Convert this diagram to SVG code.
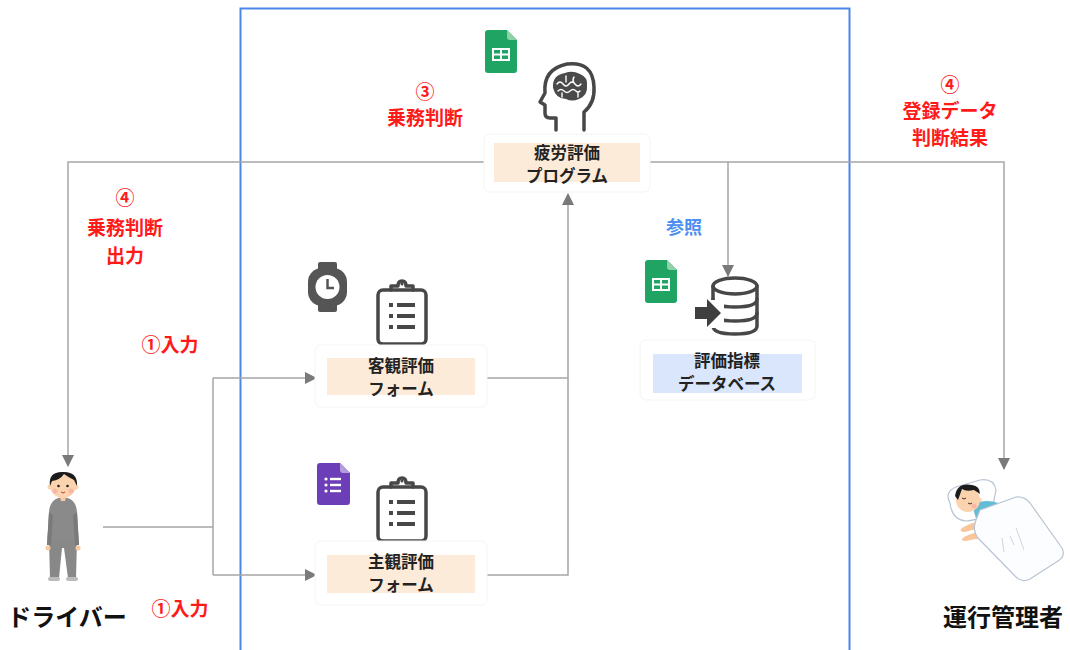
<svg xmlns="http://www.w3.org/2000/svg" width="1070" height="650" viewBox="0 0 1070 650">
  <style>
    .lbl { font-family: "Noto Sans CJK JP", "Noto Sans", sans-serif; font-weight: bold; text-anchor: middle; }
    .node { font-size: 16.5px; fill: #222; }
    .red { font-size: 19px; fill: #ff1a1a; }
    .big { font-size: 24px; fill: #111; }
    .blue { font-size: 18px; fill: #4d8ef0; }
    .card { fill: #fff; stroke: #f4f4f4; stroke-width: 1; }
    .peach { fill: #fdebd9; }
    .conn { fill: none; stroke: #a6a6a6; stroke-width: 1.5; }
    .ico { fill: none; stroke: #474747; stroke-width: 3.5; stroke-linecap: round; stroke-linejoin: round; }
  </style>
  <defs>
    <marker id="arr" markerUnits="userSpaceOnUse" markerWidth="12" markerHeight="12" viewBox="0 0 12 12" refX="11" refY="6" orient="auto">
      <path d="M0,0 L12,6 L0,12 z" fill="#7a7a7a"/>
    </marker>
    <g id="sheet">
      <path d="M3,0 H22 L32,10 V40 Q32,43 29,43 H3 Q0,43 0,40 V3 Q0,0 3,0 z" fill="#1fa463"/>
      <path d="M22,0 L32,10 H25 Q22,10 22,7 z" fill="#8ed1a8"/>
      <rect x="7" y="18" width="18" height="13" fill="#fff"/>
      <rect x="9" y="20" width="6" height="3.5" fill="#1fa463"/>
      <rect x="17" y="20" width="6" height="3.5" fill="#1fa463"/>
      <rect x="9" y="25.5" width="6" height="3.5" fill="#1fa463"/>
      <rect x="17" y="25.5" width="6" height="3.5" fill="#1fa463"/>
    </g>
    <g id="clip">
      <rect x="0" y="7" width="48" height="54" rx="5" class="ico"/>
      <path d="M13,7 V3 H20 Q20,-2 24,-2 Q28,-2 28,3 H35 V7" class="ico"/>
      <circle cx="24" cy="1" r="1.5" fill="#474747"/>
      <g fill="#474747">
        <rect x="11" y="20" width="4" height="4"/>
        <rect x="19" y="20" width="18" height="4"/>
        <rect x="11" y="31" width="4" height="4"/>
        <rect x="19" y="31" width="18" height="4"/>
        <rect x="11" y="42" width="4" height="4"/>
        <rect x="19" y="42" width="18" height="4"/>
      </g>
    </g>
  </defs>

  <rect width="1070" height="650" fill="#fff"/>

  <!-- system boundary -->
  <rect x="240.5" y="8.5" width="609" height="660" fill="none" stroke="#4a86e8" stroke-width="2"/>

  <!-- connectors -->
  <g id="connectors">
    <polyline class="conn" points="494,162 68,162 68,466" marker-end="url(#arr)"/>
    <polyline class="conn" points="640,162 1004,162 1004,469" marker-end="url(#arr)"/>
    <polyline class="conn" points="728,162 728,276" marker-end="url(#arr)"/>
    <polyline class="conn" points="475,378 568,378 568,194" marker-end="url(#arr)"/>
    <polyline class="conn" points="475,575 568,575 568,378"/>
    <polyline class="conn" points="103,527 213,527"/>
    <polyline class="conn" points="213,378 213,575"/>
    <polyline class="conn" points="213,378 316,378" marker-end="url(#arr)"/>
    <polyline class="conn" points="213,575 316,575" marker-end="url(#arr)"/>
  </g>

  <!-- fatigue evaluation program -->
  <g id="program">
    <use href="#sheet" x="485" y="30"/>
    <path d="M556,130 V118 H550 Q545,118 545,113 V105 L540,102 L545,93 Q543,69 567,64 Q593,61 594,87 Q595,103 584,112 V130" class="ico" stroke-width="3"/>
    <g>
      <path d="M553,88 Q552,75 565,73 Q572,70 580,74 Q588,77 587,86 Q588,95 579,99 Q572,102 566,99 Q556,99 553,88 z" fill="#4a4a4a"/>
      <path d="M557,84 q3,-4 6,0 q3,4 6,0 q3,-4 6,0 q3,4 6,0 M558,91 q3,-3 6,0 q3,3 6,0 q3,-3 6,0 q2,2 4,0 M566,76 v6 M574,77 q-2,3 0,6 M562,93 v4 M578,93 v4" fill="none" stroke="#fff" stroke-width="1.4" stroke-linecap="round"/>
    </g>
    <rect class="card" x="484" y="134" width="166" height="58" rx="6"/>
    <rect class="peach" x="494" y="143" width="146" height="39"/>
    <text class="lbl node" x="567" y="159">疲労評価</text>
    <text class="lbl node" x="567" y="182">プログラム</text>
  </g>

  <!-- objective evaluation form -->
  <g id="objective-form">
    <g>
      <rect x="318" y="262" width="19" height="10" rx="2" fill="#555"/>
      <rect x="318" y="302" width="19" height="10" rx="2" fill="#555"/>
      <rect x="308" y="268" width="39" height="38" rx="14" fill="#555"/>
      <circle cx="327.5" cy="287" r="12" fill="#fff"/>
      <path d="M327.5,279 V288 H334" fill="none" stroke="#555" stroke-width="2.5"/>
    </g>
    <use href="#clip" x="378" y="283"/>
    <rect class="card" x="315" y="345" width="172" height="62" rx="6"/>
    <rect class="peach" x="327" y="358" width="148" height="37"/>
    <text class="lbl node" x="401" y="372">客観評価</text>
    <text class="lbl node" x="401" y="395">フォーム</text>
  </g>

  <!-- subjective evaluation form -->
  <g id="subjective-form">
    <g>
      <path d="M320,463 H340 L350,473 V502 Q350,505 347,505 H320 Q317,505 317,502 V466 Q317,463 320,463 z" fill="#6c3fb8"/>
      <path d="M340,463 L350,473 H343 Q340,473 340,470 z" fill="#b39ddb"/>
      <g fill="#fff">
        <circle cx="326" cy="479" r="1.6"/><rect x="330" y="477.8" width="11" height="2.4"/>
        <circle cx="326" cy="485" r="1.6"/><rect x="330" y="483.8" width="11" height="2.4"/>
        <circle cx="326" cy="491" r="1.6"/><rect x="330" y="489.8" width="11" height="2.4"/>
      </g>
    </g>
    <use href="#clip" x="378" y="480"/>
    <rect class="card" x="315" y="541" width="172" height="64" rx="6"/>
    <rect class="peach" x="327" y="555" width="148" height="38"/>
    <text class="lbl node" x="401" y="568">主観評価</text>
    <text class="lbl node" x="401" y="591">フォーム</text>
  </g>

  <!-- evaluation index database -->
  <g id="database">
    <use href="#sheet" x="645" y="260"/>
    <g class="ico" stroke-width="3">
      <ellipse cx="735" cy="286" rx="22" ry="8"/>
      <path d="M713,286 V326 Q713,334 735,334 Q757,334 757,326 V286"/>
      <path d="M713,299 Q713,307 735,307 Q757,307 757,299"/>
      <path d="M713,313 Q713,321 735,321 Q757,321 757,313"/>
    </g>
    <rect x="710" y="300" width="14" height="28" fill="#fff"/>
    <path d="M695,307 H707 V299 L721,313 L707,327 V319 H695 z" fill="#3f3f3f"/>
    <rect class="card" x="640" y="340" width="175" height="60" rx="6"/>
    <rect x="653" y="354" width="149" height="39" fill="#d9e6fb"/>
    <text class="lbl node" x="727" y="367">評価指標</text>
    <text class="lbl node" x="727" y="390">データベース</text>
  </g>

  <!-- driver -->
  <g id="driver">
    <path d="M49,512 Q50,498 63,497 Q76,498 77,512 L79,545 H47 z" fill="#8a8a8a"/>
    <path d="M49,540 H77 L76,578 H68 L64,548 L62,548 L59,578 H50 z" fill="#888"/>
    <path d="M49,512 L47,545 L51,545 L53,515 M77,512 L79,545 L75,545 L73,515" fill="#7a7a7a"/>
    <rect x="48" y="577" width="12" height="4" rx="2" fill="#bbb"/>
    <rect x="66" y="577" width="12" height="4" rx="2" fill="#bbb"/>
    <circle cx="48" cy="548" r="2.5" fill="#f7c9a0"/>
    <circle cx="78" cy="548" r="2.5" fill="#f7c9a0"/>
    <path d="M59,494 L67,494 L65,501 L61,501 z" fill="#f7c9a0"/>
    <circle cx="63" cy="485" r="13" fill="#fbd3ae"/>
    <circle cx="50" cy="487" r="2.5" fill="#fbd3ae"/>
    <circle cx="76" cy="487" r="2.5" fill="#fbd3ae"/>
    <path d="M50,486 Q48,472 62,472 Q78,471 77,486 L74,480 Q68,477 64,474 Q60,480 52,481 z" fill="#1c1c1c"/>
    <circle cx="58.5" cy="486" r="1.3" fill="#222"/>
    <circle cx="67.5" cy="486" r="1.3" fill="#222"/>
    <circle cx="55" cy="491" r="2.5" fill="#f7a9a0" opacity="0.7"/>
    <circle cx="71" cy="491" r="2.5" fill="#f7a9a0" opacity="0.7"/>
    <path d="M61,492 Q63,494 65,492" fill="none" stroke="#c33" stroke-width="1"/>
    <text class="lbl big" x="67" y="626">ドライバー</text>
  </g>

  <!-- operations manager -->
  <g id="manager">
    <path d="M950,503 Q944,492 956,487 L980,480 Q994,478 996,490 L993,505 Q985,520 966,521 Q952,520 950,503 z" fill="#fff" stroke="#b9c4d3" stroke-width="1.2"/>
    <path d="M972,505 Q985,498 998,503 L1000,515 L978,525 z" fill="#62bcd6"/>
    <circle cx="968" cy="500" r="12" fill="#fbd3ae"/>
    <path d="M955,496 Q957,482 972,485 Q980,486 980,494 L974,490 Q966,492 962,489 L958,500 z" fill="#1c1c1c"/>
    <circle cx="979" cy="500" r="2.5" fill="#fbd3ae"/>
    <path d="M962,498 q2,2 4,0 M968,503 q2,2 4,0" fill="none" stroke="#333" stroke-width="1"/>
    <circle cx="974" cy="506" r="2.5" fill="#f7a9a0" opacity="0.7"/>
    <path d="M962,528 Q975,520 990,522 L992,528 Q977,528 965,532 Q958,532 962,528 z" fill="#f9c59b"/>
    <path d="M964,537 Q978,530 992,532 L991,538 Q977,538 966,541 Q959,541 964,537 z" fill="#f9c59b"/>
    <path d="M980,510 L1016,497 Q1024,496 1030,503 L1062,548 Q1066,556 1058,561 L1030,579 Q1022,583 1016,577 L978,538 Q972,530 976,520 z" fill="#fcfdff" stroke="#b9c4d3" stroke-width="1.2"/>
    <path d="M1002,538 L1004,552 M1016,528 L1024,550 M1010,536 L1014,545" stroke="#cfd6df" stroke-width="1"/>
    <text class="lbl big" x="1003" y="626">運行管理者</text>
  </g>

  <!-- step labels -->
  <g id="labels">
    <text class="lbl red" x="125" y="205">④</text>
    <text class="lbl red" x="125" y="235">乗務判断</text>
    <text class="lbl red" x="125" y="263">出力</text>
    <text class="lbl red" x="170" y="352">①入力</text>
    <text class="lbl red" x="180" y="616">①入力</text>
    <text class="lbl red" x="425" y="99">③</text>
    <text class="lbl red" x="425" y="125">乗務判断</text>
    <text class="lbl red" x="950" y="92">④</text>
    <text class="lbl red" x="950" y="118">登録データ</text>
    <text class="lbl red" x="950" y="145">判断結果</text>
    <text class="lbl blue" x="684" y="234">参照</text>
  </g>
</svg>
